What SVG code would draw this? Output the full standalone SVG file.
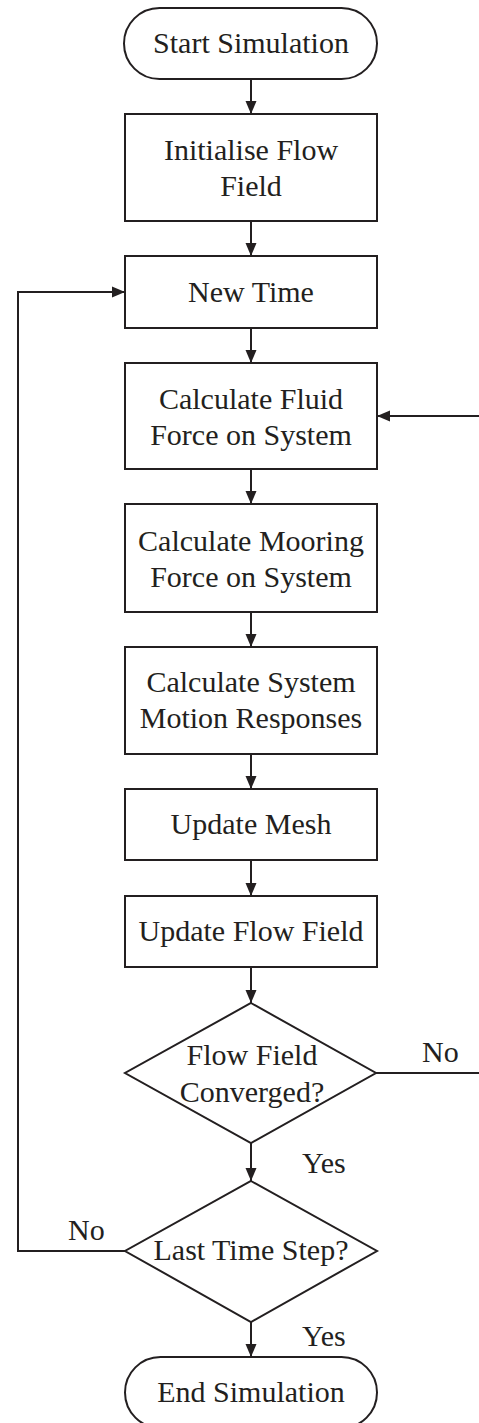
<svg xmlns="http://www.w3.org/2000/svg" width="479" height="1423" viewBox="0 0 479 1423">
<style>
.n{fill:#fff;stroke:#231f20;stroke-width:2}
.t{font-family:"Liberation Serif","Times New Roman",serif;font-size:30px;fill:#231f20;text-anchor:middle}
.l{font-family:"Liberation Serif","Times New Roman",serif;font-size:30px;fill:#231f20}
.c{fill:none;stroke:#231f20;stroke-width:2}
</style>
<defs>
<marker id="ah" markerUnits="userSpaceOnUse" markerWidth="13" markerHeight="12" refX="13" refY="6" orient="auto">
<path d="M0,0.5 L13,6 L0,11.5 z" fill="#231f20"/>
</marker>
</defs>
<rect width="479" height="1423" fill="#fff"/>
<g id="connectors">
<line class="c" x1="251" y1="79" x2="251" y2="114" marker-end="url(#ah)"/>
<line class="c" x1="251" y1="221" x2="251" y2="256" marker-end="url(#ah)"/>
<line class="c" x1="251" y1="328" x2="251" y2="363" marker-end="url(#ah)"/>
<line class="c" x1="251" y1="469" x2="251" y2="504" marker-end="url(#ah)"/>
<line class="c" x1="251" y1="612" x2="251" y2="647" marker-end="url(#ah)"/>
<line class="c" x1="251" y1="754" x2="251" y2="789" marker-end="url(#ah)"/>
<line class="c" x1="251" y1="860" x2="251" y2="896" marker-end="url(#ah)"/>
<line class="c" x1="251" y1="967" x2="251" y2="1003" marker-end="url(#ah)"/>
<line class="c" x1="251" y1="1143" x2="251" y2="1181" marker-end="url(#ah)"/>
<line class="c" x1="251" y1="1322" x2="251" y2="1357" marker-end="url(#ah)"/>
<path class="c" d="M125,1251 H18 V292 H125" marker-end="url(#ah)"/>
<path class="c" d="M376,1073 H490 V416 H377" marker-end="url(#ah)"/>
<text class="l" x="422" y="1062">No</text>
<text class="l" x="302" y="1173">Yes</text>
<text class="l" x="68" y="1240">No</text>
<text class="l" x="302" y="1346">Yes</text>
</g>
<g id="start">
<rect class="n" x="124" y="8" width="253" height="71" rx="35.5" ry="35.5"/>
<text class="t" x="251" y="53">Start Simulation</text>
</g>
<g id="init">
<rect class="n" x="125" y="114" width="252" height="107"/>
<text class="t" x="251" y="160">Initialise Flow</text>
<text class="t" x="251" y="196">Field</text>
</g>
<g id="newtime">
<rect class="n" x="125" y="256" width="252" height="72"/>
<text class="t" x="251" y="302">New Time</text>
</g>
<g id="fluid">
<rect class="n" x="125" y="363" width="252" height="106"/>
<text class="t" x="251" y="409">Calculate Fluid</text>
<text class="t" x="251" y="445">Force on System</text>
</g>
<g id="mooring">
<rect class="n" x="125" y="504" width="252" height="108"/>
<text class="t" x="251" y="551">Calculate Mooring</text>
<text class="t" x="251" y="587">Force on System</text>
</g>
<g id="motion">
<rect class="n" x="125" y="647" width="252" height="107"/>
<text class="t" x="251" y="692">Calculate System</text>
<text class="t" x="251" y="728">Motion Responses</text>
</g>
<g id="mesh">
<rect class="n" x="125" y="789" width="252" height="71"/>
<text class="t" x="251" y="834">Update Mesh</text>
</g>
<g id="flow">
<rect class="n" x="125" y="896" width="252" height="71"/>
<text class="t" x="251" y="941">Update Flow Field</text>
</g>
<g id="converged">
<polygon class="n" points="251,1003 376,1073 251,1143 125,1073"/>
<text class="t" x="252" y="1065">Flow Field</text>
<text class="t" x="252" y="1102">Converged?</text>
</g>
<g id="laststep">
<polygon class="n" points="251,1181 377,1251 251,1322 125,1251"/>
<text class="t" x="251" y="1260">Last Time Step?</text>
</g>
<g id="end">
<rect class="n" x="125" y="1357" width="252" height="71" rx="35.5" ry="35.5"/>
<text class="t" x="251" y="1402">End Simulation</text>
</g>
</svg>
